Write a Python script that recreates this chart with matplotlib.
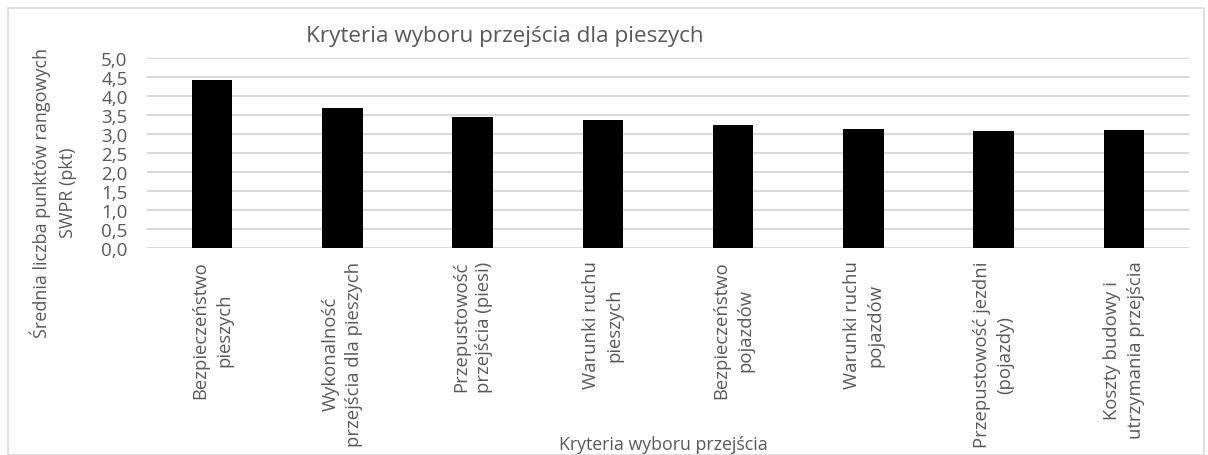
import matplotlib.pyplot as plt
from matplotlib.patches import Rectangle
from matplotlib.ticker import FuncFormatter

plt.rcParams['font.family'] = ['Open Sans', 'DejaVu Sans']

# Mean rank points per criterion
categories = [
    "Bezpieczeństwo\npieszych",
    "Wykonalność\nprzejścia dla pieszych",
    "Przepustowość\nprzejścia (piesi)",
    "Warunki ruchu\npieszych",
    "Bezpieczeństwo\npojazdów",
    "Warunki ruchu\npojazdów",
    "Przepustowość jezdni\n(pojazdy)",
    "Koszty budowy i\nutrzymania przejścia",
]
scores = [4.41, 3.68, 3.44, 3.37, 3.24, 3.13, 3.07, 3.11]
yticks = [0.0, 0.5, 1.0, 1.5, 2.0, 2.5, 3.0, 3.5, 4.0, 4.5, 5.0]

text_col = '#595959'
grid_col = '#d9d9d9'

fig = plt.figure(figsize=(12.08, 4.56), dpi=100)
ax = fig.add_axes([0.1217, 0.454, 0.8626, 0.417])

x = range(len(categories))
ax.bar(x, scores, width=0.31, color='black', zorder=3)

ax.set_xlim(-0.5, len(categories) - 0.5)
ax.set_ylim(0, 5)
ax.set_yticks(yticks)
ax.yaxis.set_major_formatter(FuncFormatter(lambda v, p: f"{v:.1f}".replace('.', ',')))
ax.grid(axis='y', color=grid_col, linewidth=1.5, zorder=0)
for s in ax.spines.values():
    s.set_visible(False)
ax.tick_params(axis='both', length=0, colors=text_col)
ax.tick_params(axis='y', pad=14, labelsize=13.5)
ax.set_xticks(list(x))
ax.set_xticklabels(categories, rotation=90, ha='center', va='top',
                   multialignment='center', fontsize=13.3, color=text_col,
                   linespacing=1.4)
ax.tick_params(axis='x', pad=9)

fig.text(0.418, 0.921, "Kryteria wyboru przejścia dla pieszych",
         ha='center', va='center', fontsize=16.2, color=text_col)
fig.text(0.549, 0.024, "Kryteria wyboru przejścia",
         ha='center', va='center', fontsize=12.8, color=text_col)
fig.text(0.044, 0.577, "Średnia liczba punktów rangowych\nSWPR (pkt)",
         ha='center', va='center', rotation=90, multialignment='center',
         fontsize=13, color=text_col, linespacing=1.6)

# outer chart border
fig.patches.append(Rectangle((0.007, 0.0), 0.99, 0.98, transform=fig.transFigure,
                             fill=False, edgecolor=grid_col, linewidth=1.2))

fig.savefig('out.png', dpi=100)
